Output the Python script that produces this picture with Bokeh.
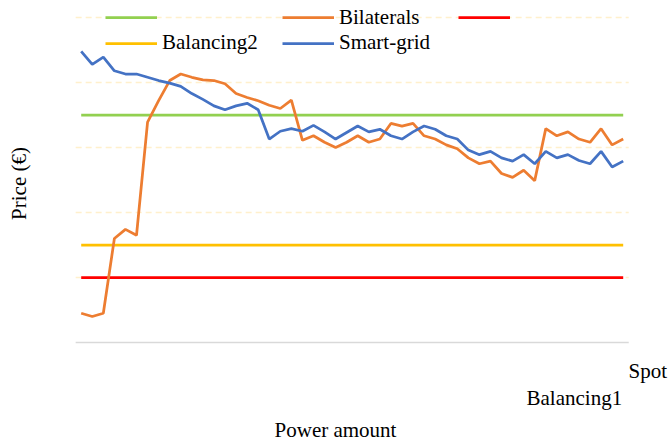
from bokeh.plotting import figure
from bokeh.models import Range1d, Label, Legend, LegendItem
from bokeh.core.properties import value
from bokeh.embed import file_html
from bokeh.resources import INLINE
import math

# ---- data ----
power_amount = list(range(1, 51))

bilaterals = [0.45, 0.40, 0.45, 1.60, 1.74, 1.65, 3.39, 3.72, 4.03, 4.13,
              4.08, 4.04, 4.03, 3.98, 3.83, 3.77, 3.72, 3.65, 3.60, 3.73,
              3.11, 3.18, 3.08, 3.00, 3.08, 3.18, 3.08, 3.13, 3.37, 3.33,
              3.37, 3.18, 3.13, 3.04, 2.98, 2.84, 2.75, 2.79, 2.60, 2.54,
              2.65, 2.49, 3.29, 3.18, 3.24, 3.13, 3.08, 3.29, 3.04, 3.13]

smart_grid = [4.48, 4.28, 4.39, 4.18, 4.13, 4.13, 4.08, 4.03, 3.99, 3.94,
              3.83, 3.74, 3.64, 3.58, 3.64, 3.68, 3.58, 3.13, 3.25, 3.29,
              3.25, 3.34, 3.24, 3.13, 3.23, 3.33, 3.24, 3.28, 3.18, 3.13,
              3.24, 3.33, 3.28, 3.18, 3.13, 2.96, 2.89, 2.94, 2.84, 2.79,
              2.89, 2.75, 2.94, 2.84, 2.89, 2.80, 2.75, 2.94, 2.70, 2.79]

spot_price = 3.5
balancing1_price = 1.0
balancing2_price = 1.5

spot = [spot_price] * len(power_amount)
balancing1 = [balancing1_price] * len(power_amount)
balancing2 = [balancing2_price] * len(power_amount)

grid_ticks = [1, 2, 3, 4, 5]

# ---- layout (pixels) ----
W, H = 668, 443
X_FIRST_PX, X_LAST_PX = 80.7, 622.7      # first / last category centre
Y_ZERO_PX, PX_PER_UNIT = 342.0, 65.0     # value 0 position, pixels per unit

n = len(power_amount)
px_per_cat = (X_LAST_PX - X_FIRST_PX) / (n - 1)
x_start = power_amount[0] - X_FIRST_PX / px_per_cat
x_end = power_amount[-1] + (W - X_LAST_PX) / px_per_cat
y_start = -(H - Y_ZERO_PX) / PX_PER_UNIT
y_end = Y_ZERO_PX / PX_PER_UNIT

FONT = "Liberation Serif"

p = figure(width=W, height=H, output_backend="svg", toolbar_location=None,
           min_border=0,
           x_range=Range1d(x_start, x_end), y_range=Range1d(y_start, y_end))
p.outline_line_color = None
p.xaxis.visible = False
p.yaxis.visible = False
p.xgrid.visible = False
p.ygrid.visible = False

# plot area edges: half a category beyond first / last point
left_edge = power_amount[0] - 0.5
right_edge = power_amount[-1] + 0.5

# dashed horizontal gridlines
p.segment(x0=[left_edge] * len(grid_ticks), x1=[right_edge] * len(grid_ticks),
          y0=grid_ticks, y1=grid_ticks,
          line_color="#fff0cc", line_dash="6 4", line_width=1.5)
# category axis baseline
p.segment(x0=[left_edge], x1=[right_edge], y0=[0], y1=[0],
          line_color="#d9d9d9", line_width=1.5)

LW = 2.75
r_spot = p.line(power_amount, spot, line_color="#92d050", line_width=LW)
r_b2 = p.line(power_amount, balancing2, line_color="#ffc000", line_width=LW)
r_b1 = p.line(power_amount, balancing1, line_color="#ff0000", line_width=LW)
r_bil = p.line(power_amount, bilaterals, line_color="#ed7d31", line_width=LW)
r_sg = p.line(power_amount, smart_grid, line_color="#4472c4", line_width=LW)

IH = 24
def add_legend(renderer, label, x, y_center_from_top):
    yb = H - y_center_from_top - IH / 2
    leg = Legend(items=[LegendItem(label=value(label), renderers=[renderer])],
                 location=(x, yb),
                 border_line_color=None, background_fill_alpha=0,
                 padding=0, margin=0, spacing=0,
                 glyph_width=52, glyph_height=IH, label_height=IH,
                 label_standoff=5,
                 label_text_font=FONT, label_text_font_size="21px",
                 label_text_color="#000000")
    p.add_layout(leg, "center")

add_legend(r_spot, "", 105, 16.7)
add_legend(r_bil, "Bilaterals", 282, 17.5)
add_legend(r_b1, "", 458, 16.7)
add_legend(r_b2, "Balancing2", 105, 43)
add_legend(r_sg, "Smart-grid", 282, 43)

def add_text(txt, x, y_from_top, align="left", baseline="alphabetic", angle=0.0):
    p.add_layout(Label(x=x, y=H - y_from_top, x_units="screen", y_units="screen", text=txt,
                       text_font=FONT, text_font_size="21px", text_color="#000000",
                       text_align=align, text_baseline=baseline, angle=angle))

add_text("Spot", 628, 370)
add_text("Balancing1", 526, 397)
add_text("Power amount", 335, 429, align="center")
add_text("Price (€)", 18, 183, align="center", baseline="middle", angle=math.pi / 2)

open("out.html", "w").write(file_html(p, INLINE))
